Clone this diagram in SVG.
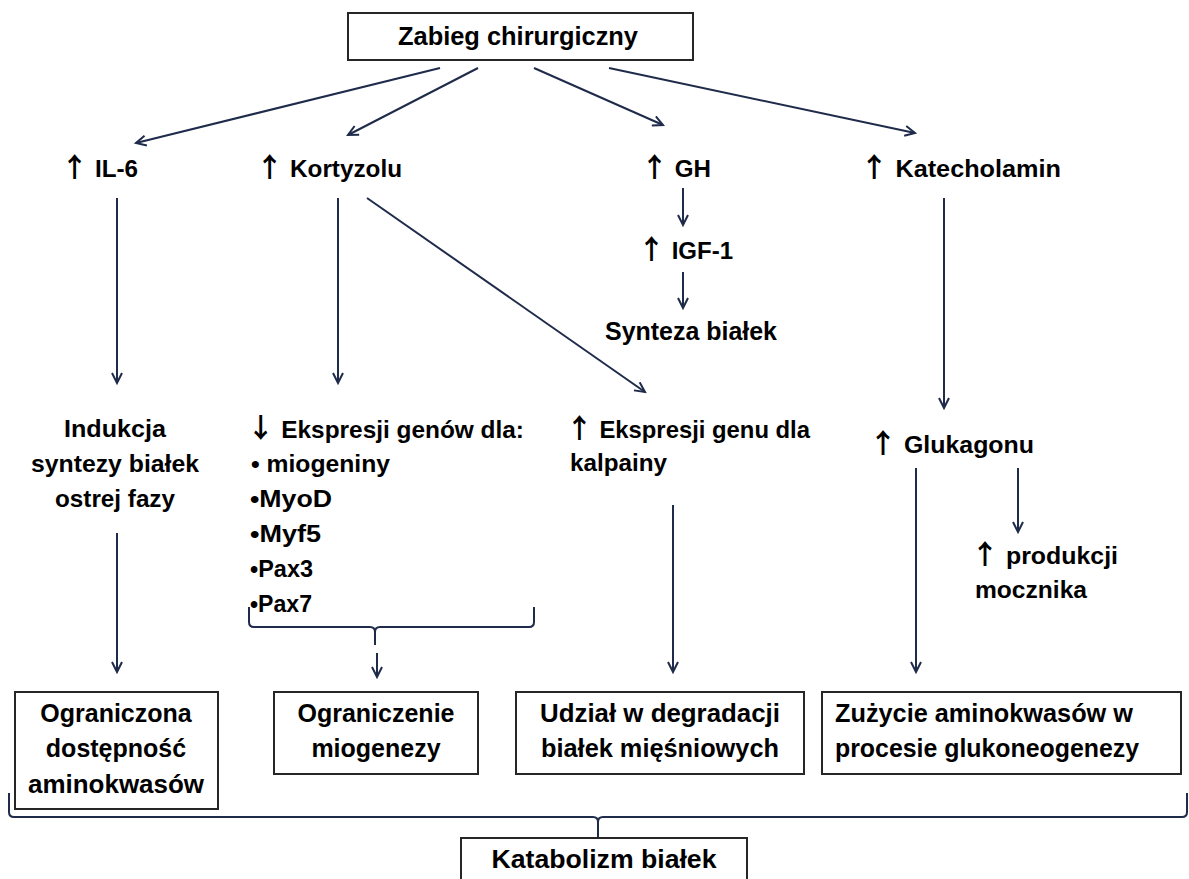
<svg xmlns="http://www.w3.org/2000/svg" width="1189" height="879" viewBox="0 0 1189 879">
<defs>
<style>
.bg{fill:#ffffff}
.box{fill:#ffffff;stroke:#262626;stroke-width:2}
.tb{font-family:"Liberation Sans",Arial,sans-serif;font-weight:bold;font-size:25px;fill:#000}
.tl{font-family:"Liberation Sans",Arial,sans-serif;font-weight:bold;font-size:24px;fill:#000}
.ar{font-family:"Noto Sans CJK SC","DejaVu Sans",sans-serif;font-weight:bold;font-size:27px}
.c{fill:none;stroke:#1f2b4a;stroke-width:2}
.br{fill:none;stroke:#1f2b4a;stroke-width:2}
</style>
<marker id="ah" markerUnits="userSpaceOnUse" markerWidth="14" markerHeight="14" refX="11" refY="6" orient="auto">
<path d="M1,1 L11,6 L1,11" fill="none" stroke="#1f2b4a" stroke-width="2"/>
</marker>
</defs>
<rect class="bg" x="0" y="0" width="1189" height="879"/>

<g id="connectors">
<line class="c" x1="440" y1="68" x2="136" y2="143" marker-end="url(#ah)"/>
<line class="c" x1="478" y1="68" x2="348" y2="135" marker-end="url(#ah)"/>
<line class="c" x1="534" y1="68" x2="663" y2="125" marker-end="url(#ah)"/>
<line class="c" x1="609" y1="68" x2="915" y2="133" marker-end="url(#ah)"/>
<line class="c" x1="117" y1="198" x2="117" y2="383" marker-end="url(#ah)"/>
<line class="c" x1="338" y1="198" x2="338" y2="383" marker-end="url(#ah)"/>
<line class="c" x1="367" y1="198" x2="645" y2="392" marker-end="url(#ah)"/>
<line class="c" x1="683" y1="188" x2="683" y2="225" marker-end="url(#ah)"/>
<line class="c" x1="683" y1="272" x2="683" y2="308" marker-end="url(#ah)"/>
<line class="c" x1="944" y1="198" x2="944" y2="408" marker-end="url(#ah)"/>
<line class="c" x1="117" y1="533" x2="117" y2="672" marker-end="url(#ah)"/>
<line class="c" x1="377" y1="653" x2="377" y2="677" marker-end="url(#ah)"/>
<line class="c" x1="673" y1="505" x2="673" y2="672" marker-end="url(#ah)"/>
<line class="c" x1="916" y1="468" x2="916" y2="672" marker-end="url(#ah)"/>
<line class="c" x1="1018" y1="468" x2="1018" y2="532" marker-end="url(#ah)"/>
<path class="br" d="M249,607 L249,622 Q249,627 254,627 L370,627 Q375,627 375,632 L375,645 M375,632 Q375,627 380,627 L529,627 Q534,627 534,622 L534,607"/>
<path class="br" d="M9,793 L9,812 Q9,817 14,817 L593,817 Q598,817 598,822 L598,838 M598,822 Q598,817 603,817 L1182,817 Q1187,817 1187,812 L1187,793"/>
</g>

<g id="n-zabieg">
<rect class="box" x="348" y="13" width="345" height="47"/>
<text class="tb" x="518" y="45" text-anchor="middle" textLength="240" lengthAdjust="spacingAndGlyphs">Zabieg chirurgiczny</text>
</g>

<g id="n-il6"><text class="tl" x="61" y="177" textLength="77" lengthAdjust="spacingAndGlyphs"><tspan class="ar">↑</tspan> IL-6</text></g>
<g id="n-kortyzol"><text class="tl" x="256" y="177" textLength="146" lengthAdjust="spacingAndGlyphs"><tspan class="ar">↑</tspan> Kortyzolu</text></g>
<g id="n-gh"><text class="tl" x="641" y="177" textLength="70" lengthAdjust="spacingAndGlyphs"><tspan class="ar">↑</tspan> GH</text></g>
<g id="n-katecholamin"><text class="tl" x="860" y="177" textLength="201" lengthAdjust="spacingAndGlyphs"><tspan class="ar">↑</tspan> Katecholamin</text></g>
<g id="n-igf1"><text class="tl" x="638" y="259" textLength="95" lengthAdjust="spacingAndGlyphs"><tspan class="ar">↑</tspan> IGF-1</text></g>
<g id="n-synteza"><text class="tb" x="605" y="340" textLength="172" lengthAdjust="spacingAndGlyphs">Synteza białek</text></g>

<g id="n-indukcja">
<text class="tl" x="115" y="437" text-anchor="middle" textLength="102" lengthAdjust="spacingAndGlyphs">Indukcja</text>
<text class="tl" x="115" y="472" text-anchor="middle" textLength="168" lengthAdjust="spacingAndGlyphs">syntezy białek</text>
<text class="tl" x="115" y="507" text-anchor="middle" textLength="120" lengthAdjust="spacingAndGlyphs">ostrej fazy</text>
</g>

<g id="n-ekspresji-genow">
<text class="tl" x="247" y="438" textLength="277" lengthAdjust="spacingAndGlyphs"><tspan class="ar">↓</tspan> Ekspresji genów dla:</text>
<text class="tl" x="251" y="472" textLength="139" lengthAdjust="spacingAndGlyphs">• miogeniny</text>
<text class="tl" x="250" y="507" textLength="82" lengthAdjust="spacingAndGlyphs">•MyoD</text>
<text class="tl" x="250" y="542" textLength="71" lengthAdjust="spacingAndGlyphs">•Myf5</text>
<text class="tl" x="250" y="577" textLength="63" lengthAdjust="spacingAndGlyphs">•Pax3</text>
<text class="tl" x="250" y="612" textLength="62" lengthAdjust="spacingAndGlyphs">•Pax7</text>
</g>

<g id="n-kalpainy">
<text class="tl" x="566" y="438" textLength="244" lengthAdjust="spacingAndGlyphs"><tspan class="ar">↑</tspan> Ekspresji genu dla</text>
<text class="tl" x="570" y="471" textLength="97" lengthAdjust="spacingAndGlyphs">kalpainy</text>
</g>

<g id="n-glukagon"><text class="tl" x="869" y="453" textLength="165" lengthAdjust="spacingAndGlyphs"><tspan class="ar">↑</tspan> Glukagonu</text></g>

<g id="n-mocznik">
<text class="tl" x="971" y="564" textLength="147" lengthAdjust="spacingAndGlyphs"><tspan class="ar">↑</tspan> produkcji</text>
<text class="tl" x="975" y="598" textLength="112" lengthAdjust="spacingAndGlyphs">mocznika</text>
</g>

<g id="n-ograniczona">
<rect class="box" x="15" y="692" width="203" height="117"/>
<text class="tb" x="116" y="722" text-anchor="middle">Ograniczona</text>
<text class="tb" x="116" y="757" text-anchor="middle">dostępność</text>
<text class="tb" x="116" y="793" text-anchor="middle" textLength="176" lengthAdjust="spacingAndGlyphs">aminokwasów</text>
</g>

<g id="n-miogeneza">
<rect class="box" x="274" y="692" width="204" height="82"/>
<text class="tb" x="376" y="722" text-anchor="middle">Ograniczenie</text>
<text class="tb" x="376" y="757" text-anchor="middle">miogenezy</text>
</g>

<g id="n-degradacja">
<rect class="box" x="516" y="692" width="288" height="82"/>
<text class="tb" x="660" y="722" text-anchor="middle" textLength="240" lengthAdjust="spacingAndGlyphs">Udział w degradacji</text>
<text class="tb" x="660" y="757" text-anchor="middle" textLength="238" lengthAdjust="spacingAndGlyphs">białek mięśniowych</text>
</g>

<g id="n-glukoneogeneza">
<rect class="box" x="822" y="692" width="359" height="82"/>
<text class="tb" x="835" y="722" textLength="298" lengthAdjust="spacingAndGlyphs">Zużycie aminokwasów w</text>
<text class="tb" x="835" y="757" textLength="304" lengthAdjust="spacingAndGlyphs">procesie glukoneogenezy</text>
</g>

<g id="n-katabolizm">
<rect class="box" x="461" y="838" width="286" height="60"/>
<text class="tb" x="604" y="868" text-anchor="middle" textLength="225" lengthAdjust="spacingAndGlyphs">Katabolizm białek</text>
</g>
</svg>
